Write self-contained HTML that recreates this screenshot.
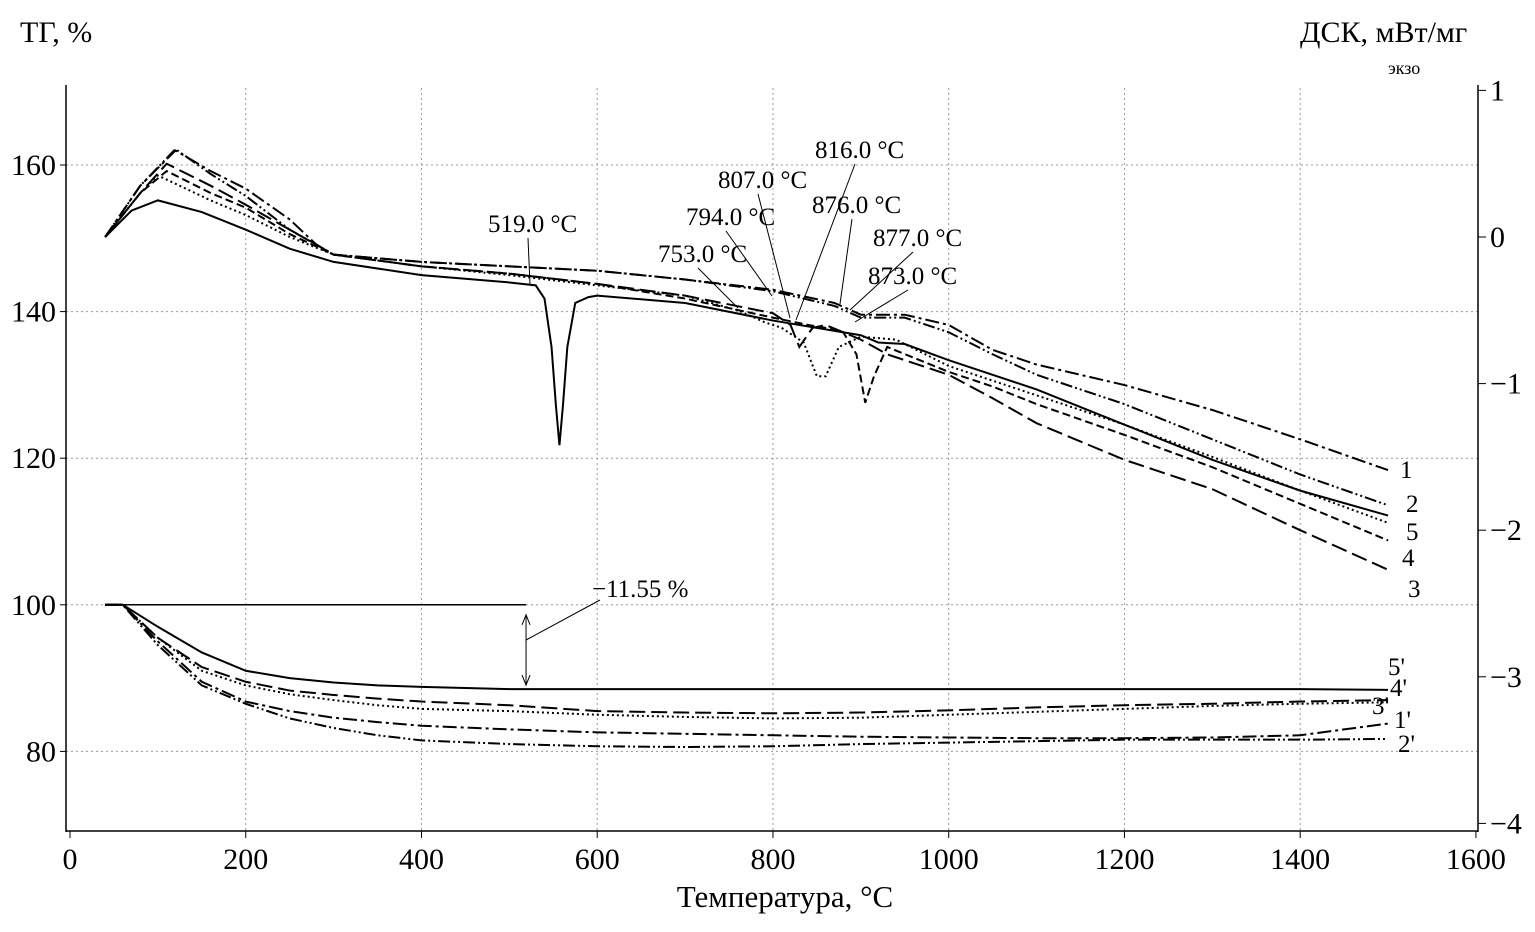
<!DOCTYPE html>
<html><head><meta charset="utf-8"><style>
body{margin:0;background:#fff}
svg{display:block;font-family:"Liberation Serif",serif}
</style></head><body>
<svg id="c" width="1535" height="932">
<text x="20" y="42" font-size="30">ТГ, %</text>
<text x="1300" y="42" font-size="30">ДСК, мВт/мг</text>
<text x="1388" y="74" font-size="18">экзо</text>
<text x="785" y="907" font-size="31" text-anchor="middle">Температура, °C</text>
</svg>
<script>
const xTicks=[0,200,400,600,800,1000,1200,1400,1600];
const leftTicks=[80,100,120,140,160];
const rightTicks=[1,0,-1,-2,-3,-4];
const dscT1=[40,80,120,160,200,250,280,300,400,500,600,700,800,870,900,950,1000,1050,1100,1200,1300,1400,1500];
const dsc1=[0,0.35,0.59,0.45,0.33,0.12,-0.05,-0.12,-0.17,-0.2,-0.23,-0.29,-0.36,-0.45,-0.53,-0.53,-0.6,-0.77,-0.87,-1.01,-1.18,-1.38,-1.59];
const dsc2=[0,0.35,0.6,0.43,0.28,0.05,-0.05,-0.12,-0.17,-0.2,-0.23,-0.29,-0.37,-0.47,-0.55,-0.55,-0.65,-0.8,-0.94,-1.14,-1.38,-1.62,-1.83];
const dscT3=[40,80,110,160,200,250,300,400,500,600,700,800,820,830,845,860,900,930,1000,1050,1100,1200,1300,1400,1500];
const dsc3=[0,0.3,0.5,0.35,0.22,0.05,-0.12,-0.2,-0.25,-0.32,-0.4,-0.52,-0.6,-0.75,-0.62,-0.6,-0.7,-0.8,-0.94,-1.1,-1.27,-1.52,-1.72,-2.0,-2.27];
const dscT4=[40,80,110,160,200,250,300,400,500,600,700,800,840,860,880,895,905,915,930,1000,1050,1100,1200,1300,1400,1500];
const dsc4=[0,0.3,0.45,0.3,0.2,0.02,-0.12,-0.2,-0.25,-0.32,-0.42,-0.55,-0.6,-0.62,-0.65,-0.8,-1.13,-0.95,-0.75,-0.92,-1.02,-1.14,-1.35,-1.57,-1.82,-2.07];
const dscT5=[40,80,100,160,200,250,300,400,500,700,760,790,810,835,850,860,875,900,940,1000,1050,1100,1200,1300,1400,1500];
const dsc5=[0,0.3,0.42,0.25,0.15,0,-0.12,-0.2,-0.26,-0.4,-0.5,-0.58,-0.62,-0.72,-0.95,-0.95,-0.75,-0.68,-0.7,-0.88,-0.98,-1.08,-1.28,-1.5,-1.73,-1.95];
const dscTs=[40,70,100,150,200,250,300,400,500,530,540,548,553,557,561,566,575,590,600,700,800,900,920,950,1000,1100,1200,1300,1400,1500];
const dscS=[0,0.18,0.25,0.17,0.05,-0.08,-0.17,-0.26,-0.31,-0.33,-0.42,-0.75,-1.15,-1.42,-1.15,-0.75,-0.45,-0.41,-0.4,-0.45,-0.57,-0.67,-0.72,-0.73,-0.84,-1.04,-1.28,-1.52,-1.73,-1.9];
const tgT=[40,60,100,150,200,250,300,350,400,500,600,700,800,900,1000,1100,1200,1300,1400,1500];
const tg5=[100,100,97,93.5,91,90,89.4,89,88.8,88.5,88.5,88.5,88.5,88.5,88.5,88.5,88.5,88.5,88.5,88.4];
const tg4=[100,100,95.5,91.5,89.5,88.3,87.7,87.2,86.8,86.3,85.5,85.3,85.2,85.3,85.6,86,86.3,86.5,86.8,87];
const tg3=[100,100,95.5,91,89,87.8,87,86.3,85.8,85.5,85,84.7,84.5,84.6,85,85.4,85.8,86.2,86.5,86.7];
const tg1=[100,100,95,89.5,86.8,85.5,84.6,84,83.5,83,82.6,82.4,82.2,82,81.9,81.8,81.8,81.9,82.2,83.8];
const tg2=[100,100,94.5,89,86.5,84.5,83.2,82.2,81.5,81,80.7,80.6,80.7,81,81.2,81.4,81.6,81.6,81.6,81.7];
const svg=document.getElementById('c'),NS='http://www.w3.org/2000/svg';
const X=t=>70+t*0.8787, YL=v=>165+(160-v)*7.33, YR=v=>237-v*146.6;
function mk(tag,a,name){const e=document.createElementNS(NS,tag);for(const k in a)e.setAttribute(k,a[k]);


svg.appendChild(e);return e;}
xTicks.slice(1,-1).forEach(t=>mk('line',{x1:X(t),x2:X(t),y1:88,y2:830,stroke:'#999','stroke-dasharray':'2 3'},'x-grid-line'));
leftTicks.forEach(v=>mk('line',{x1:66,x2:1478,y1:YL(v),y2:YL(v),stroke:'#999','stroke-dasharray':'2 3'},'y-grid-line'));
mk('line',{x1:66,x2:66,y1:85,y2:832,stroke:'#000','stroke-width':1.5},'left-axis');
mk('line',{x1:1478,x2:1478,y1:85,y2:832,stroke:'#000','stroke-width':1.5},'right-axis');
mk('line',{x1:66,x2:1478,y1:831,y2:831,stroke:'#000','stroke-width':1.5},'x-axis');
xTicks.forEach(t=>{mk('line',{x1:X(t),x2:X(t),y1:831,y2:838,stroke:'#000'},'x-tick');
const e=mk('text',{x:X(t),y:869,'font-size':30,'text-anchor':'middle'},'x-tick-label');e.textContent=t;});
leftTicks.forEach(v=>{mk('line',{x1:60,x2:66,y1:YL(v),y2:YL(v),stroke:'#000'},'left-tick');
const e=mk('text',{x:56,y:YL(v)+10,'font-size':30,'text-anchor':'end'},'left-tick-label');e.textContent=v;});
rightTicks.forEach(v=>{mk('line',{x1:1478,x2:1486,y1:YR(v),y2:YR(v),stroke:'#000'},'right-tick');
const e=mk('text',{x:1490,y:YR(v)+10,'font-size':30},'right-tick-label');e.textContent=v<0?'\u2212'+(-v):v;});
function line(T,V,Y,dash,name){mk('polyline',{points:T.map((t,i)=>X(t)+','+Y(V[i])).join(' '),fill:'none',stroke:'#000','stroke-width':2,'stroke-dasharray':dash},name);}
line(dscT1,dsc1,YR,'14 4 3 4','dsc-curve-1');
line(dscT1,dsc2,YR,'12 3 2 3 2 3','dsc-curve-2');
line(dscT3,dsc3,YR,'16 6','dsc-curve-3');
line(dscT4,dsc4,YR,'8 4','dsc-curve-4');
line(dscT5,dsc5,YR,'2 3','dsc-curve-5');
line(dscTs,dscS,YR,'none','dsc-curve-solid');
line(tgT,tg5,YL,'none','tg-curve-5p');
line(tgT,tg4,YL,'16 6','tg-curve-4p');
line(tgT,tg3,YL,'2 3','tg-curve-3p');
line(tgT,tg1,YL,'14 4 3 4','tg-curve-1p');
line(tgT,tg2,YL,'12 3 2 3 2 3','tg-curve-2p');
mk('line',{x1:X(40),x2:X(519),y1:YL(100),y2:YL(100),stroke:'#000','stroke-width':1.5},'mass-loss-ref-line');
mk('line',{x1:X(519),x2:X(519),y1:YL(100)+10,y2:YL(88.5)-4,stroke:'#000'},'mass-loss-arrow');
mk('path',{d:`M${X(519)-4} ${YL(100)+20}L${X(519)} ${YL(100)+10}L${X(519)+4} ${YL(100)+20}M${X(519)-4} ${YL(88.5)-14}L${X(519)} ${YL(88.5)-4}L${X(519)+4} ${YL(88.5)-14}`,fill:'none',stroke:'#000'},'arrow-heads');
mk('line',{x1:X(519),y1:640,x2:600,y2:600,stroke:'#000'},'mass-loss-leader');
let e=mk('text',{x:592,y:597,'font-size':25},'mass-loss-label');e.textContent='\u221211.55 %';
const ann=[['519.0 °C',488,232,530,285],['753.0 °C',658,262,738,308],['794.0 °C',686,225,772,296],['807.0 °C',718,188,790,318],['816.0 °C',815,158,796,320],['876.0 °C',812,213,840,304],['877.0 °C',873,246,850,310],['873.0 °C',868,284,855,322]];
ann.forEach(a=>{const t=mk('text',{x:a[1],y:a[2],'font-size':25},'peak-label');t.textContent=a[0];
mk('line',{x1:a[3],y1:a[4],x2:a[1]+40,y2:a[2]+6,stroke:'#000'},'peak-leader');});
const labs=[['1',1400,478],['2',1406,512],['5',1406,540],['4',1402,566],['3',1408,597],["5'",1388,675],["4'",1390,696],["3'",1372,714],["1'",1394,728],["2'",1398,752]];
labs.forEach(l=>{const t=mk('text',{x:l[1],y:l[2],'font-size':25},'series-label');t.textContent=l[0];});
</script>
</body></html>
